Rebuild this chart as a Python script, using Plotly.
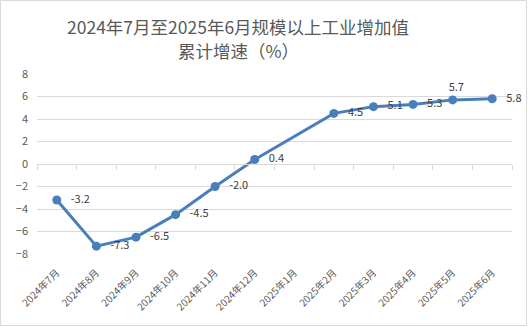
import plotly.graph_objects as go

categories = ["2024年7月", "2024年8月", "2024年9月", "2024年10月", "2024年11月", "2024年12月",
              "2025年1月", "2025年2月", "2025年3月", "2025年4月", "2025年5月", "2025年6月"]
values = [-3.2, -7.3, -6.5, -4.5, -2.0, 0.4, None, 4.5, 5.1, 5.3, 5.7, 5.8]
label_pos = ["middle right", "middle right", "middle right", "middle right", "middle right",
             "middle right", "middle right", "middle right", "middle right", "middle right",
             "top center", "middle right"]
y_ticks = [-8, -6, -4, -2, 0, 2, 4, 6, 8]

W, H = 530, 327
ML, MR, MT, MB = 37, 18, 74, 73
FONT = "Noto Sans CJK SC, Noto Sans, sans-serif"
BLUE = "#4A7EBB"

texts = ["   " + f"{v:.1f}" if v is not None else "" for v in values]

fig = go.Figure()
fig.add_trace(go.Scatter(
    x=categories, y=values, mode="lines+markers+text",
    connectgaps=True,
    line=dict(color=BLUE, width=3),
    marker=dict(color=BLUE, size=9),
    text=texts, textposition=label_pos,
    textfont=dict(family=FONT, size=11, color="#404040"),
    cliponaxis=False, showlegend=False,
))
# invisible trace for the zero-line category axis with tick marks
fig.add_trace(go.Scatter(
    x=categories, y=[0] * len(categories), xaxis="x2", mode="lines",
    line=dict(width=0, color="rgba(0,0,0,0)"), hoverinfo="skip", showlegend=False,
))

pw = W - ML - MR
ph = H - MT - MB
fig.add_shape(type="rect", xref="paper", yref="paper",
              x0=(0.5 - ML) / pw, x1=(W - 3.5 - ML) / pw,
              y0=-(MB - 1.5) / ph, y1=1 + (MT - 0.5) / ph,
              line=dict(color="#D9D9D9", width=1), layer="below")

fig.add_annotation(text="2024年7月至2025年6月规模以上工业增加值",
                   xref="paper", yref="paper",
                   x=(238 - ML) / pw, y=1 + (MT - 26) / ph,
                   xanchor="center", yanchor="middle", showarrow=False,
                   font=dict(family=FONT, size=17.5, color="#595959"))
fig.add_annotation(text="累计增速（%）",
                   xref="paper", yref="paper",
                   x=(238 - ML) / pw, y=1 + (MT - 50) / ph,
                   xanchor="center", yanchor="middle", showarrow=False,
                   font=dict(family=FONT, size=17.5, color="#595959"))

fig.update_layout(
    width=W, height=H,
    margin=dict(l=ML, r=MR, t=MT, b=MB, autoexpand=False),
    paper_bgcolor="white", plot_bgcolor="white",
    xaxis=dict(type="category", categoryarray=categories, range=[-0.5, 11.5],
               showgrid=False, showline=False, ticks="", zeroline=False,
               tickangle=-45, ticklabelstandoff=10, automargin=False,
               tickfont=dict(family=FONT, size=10, color="#595959")),
    xaxis2=dict(type="category", categoryarray=categories, range=[-0.5, 11.5],
                overlaying="x", anchor="free", position=0.5, side="bottom",
                showgrid=False, showline=True, linecolor="#D9D9D9", linewidth=1,
                ticks="outside", tickson="boundaries", ticklen=5, tickcolor="#D9D9D9",
                showticklabels=False, zeroline=False, automargin=False),
    yaxis=dict(range=[-8, 8], tickvals=y_ticks, showgrid=True, gridcolor="#D9D9D9",
               gridwidth=1, zeroline=False, showline=False, ticks="",
               ticklabelstandoff=8, automargin=False,
               tickfont=dict(family=FONT, size=11, color="#595959")),
)

fig.write_html("out.html")
